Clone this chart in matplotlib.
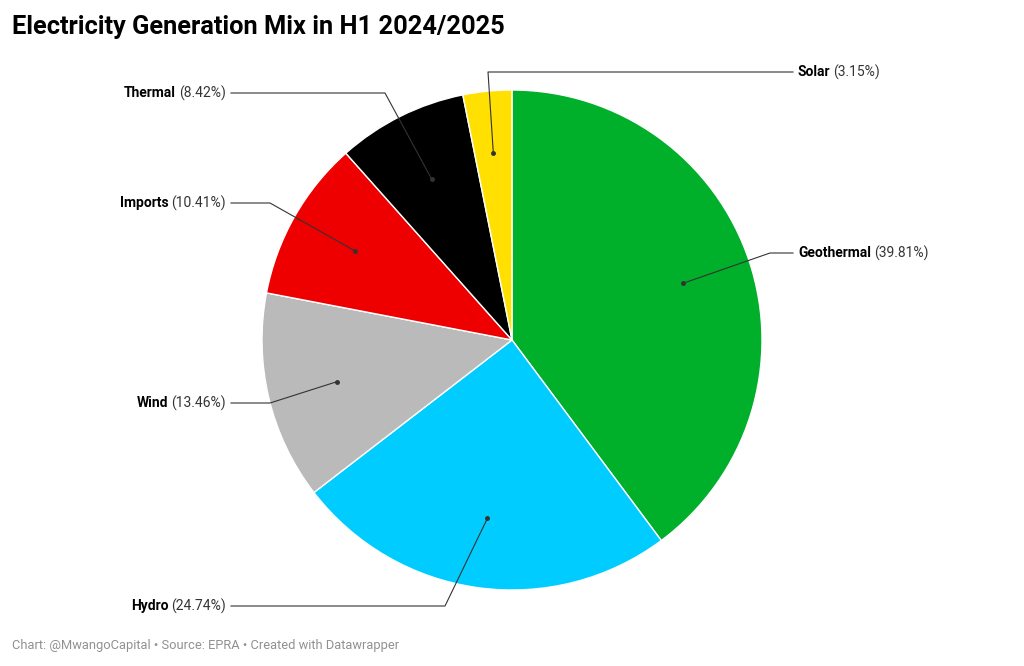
import numpy as np
import matplotlib
matplotlib.use("Agg")
import matplotlib.pyplot as plt

plt.rcParams["font.family"] = "Roboto"

labels = ["Geothermal", "Hydro", "Wind", "Imports", "Thermal", "Solar"]
shares = [39.81, 24.74, 13.46, 10.41, 8.42, 3.15]
colors = ["#00b02a", "#00ccff", "#bababa", "#ee0000", "#000000", "#ffe000"]

# label anchor (x, y), side, elbow point
label_pos = {
    "Geothermal": (798, 253, "left", (770, 253)),
    "Hydro": (226, 606, "right", (445, 606)),
    "Wind": (226, 403, "right", (270, 403)),
    "Imports": (226, 203, "right", (270, 203)),
    "Thermal": (226, 93, "right", (385, 93)),
    "Solar": (798, 72, "left", (488, 72)),
}

cx, cy, R = 512, 340, 250

fig = plt.figure(figsize=(10.24, 6.66), dpi=100)
ax = fig.add_axes([0, 0, 1, 1])

# y axis is inverted below, so draw counterclockwise from -90 to get clockwise from top
wedges, _ = ax.pie(shares, colors=colors, startangle=-90, counterclock=True,
                   center=(cx, cy), radius=R, frame=True,
                   wedgeprops=dict(edgecolor="white", linewidth=1))
ax.set_xlim(0, 1024)
ax.set_ylim(666, 0)
ax.axis("off")
ax.set_aspect("equal")

renderer = fig.canvas.get_renderer()
start = 0.0
for lab, val in zip(labels, shares):
    mid = (start + val / 2) / 100 * 2 * np.pi
    start += val
    r = 0.72 * R if val > 5 else 0.75 * R
    dx, dy = cx + r * np.sin(mid), cy - r * np.cos(mid)
    tx, ty, side, (ex, ey) = label_pos[lab]
    gap = 5 if side == "left" else -5
    ax.plot([dx, ex, tx - gap], [dy, ey, ty], color="#333333", lw=0.8)
    ax.plot(dx, dy, "o", color="#333333", ms=2.5)
    if side == "left":
        t = ax.text(tx, ty, lab, fontsize=10, fontweight="bold", ha="left", va="center")
        w = t.get_window_extent(renderer).width
        ax.text(tx + w + 3, ty, f"({val:.2f}%)", fontsize=10, ha="left", va="center", color="#333333")
    else:
        t = ax.text(tx, ty, f"({val:.2f}%)", fontsize=10, ha="right", va="center", color="#333333")
        w = t.get_window_extent(renderer).width
        ax.text(tx - w - 3, ty, lab, fontsize=10, fontweight="bold", ha="right", va="center")

fig.text(12 / 1024, 1 - 27 / 666, "Electricity Generation Mix in H1 2024/2025",
         fontsize=18.3, fontweight="bold", va="center")
fig.text(12 / 1024, 1 - 646 / 666,
         "Chart: @MwangoCapital \u2022 Source: EPRA \u2022 Created with Datawrapper",
         fontsize=9.3, color="#909090", va="center")

fig.savefig("out.png", dpi=100)
